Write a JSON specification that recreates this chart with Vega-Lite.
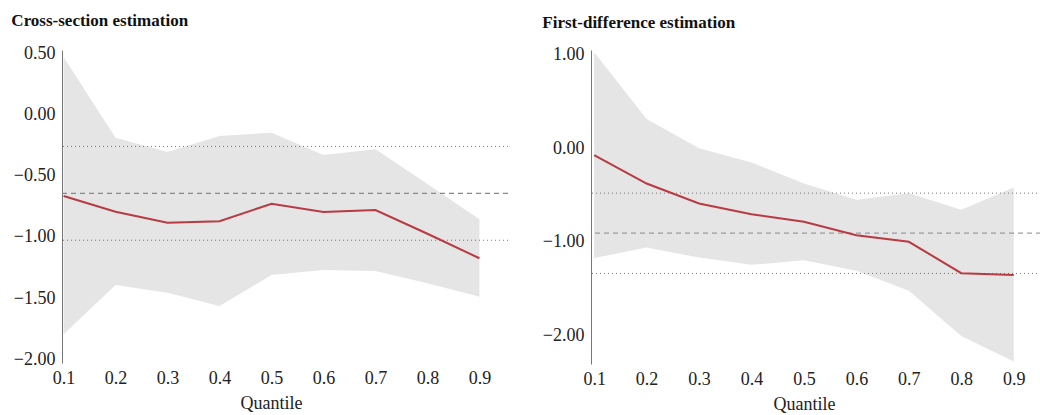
{
  "$schema": "https://vega.github.io/schema/vega-lite/v6.json",
  "padding": {"left": 11, "top": 12, "right": 0, "bottom": 0},
  "background": "white",
  "spacing": 33,
  "config": {
    "font": "Liberation Serif",
    "view": {"stroke": null},
    "axis": {"labelFont": "Liberation Serif", "titleFont": "Liberation Serif", "labelFontSize": 18, "titleFontSize": 18, "labelColor": "#222", "titleColor": "#222", "titleFontWeight": "normal", "grid": false, "ticks": false},
    "title": {"font": "Liberation Serif", "fontSize": 17, "fontWeight": "bold", "color": "#111", "anchor": "start", "frame": "bounds"}
  },
  "datasets": {
    "est": [
      {"panel": "cs", "q": 0.1, "est": -0.667, "lo": -1.796, "hi": 0.468},
      {"panel": "cs", "q": 0.2, "est": -0.795, "lo": -1.393, "hi": -0.191},
      {"panel": "cs", "q": 0.3, "est": -0.885, "lo": -1.456, "hi": -0.308},
      {"panel": "cs", "q": 0.4, "est": -0.873, "lo": -1.565, "hi": -0.177},
      {"panel": "cs", "q": 0.5, "est": -0.730, "lo": -1.312, "hi": -0.150},
      {"panel": "cs", "q": 0.6, "est": -0.797, "lo": -1.270, "hi": -0.332},
      {"panel": "cs", "q": 0.7, "est": -0.781, "lo": -1.280, "hi": -0.286},
      {"panel": "cs", "q": 0.8, "est": -0.975, "lo": -1.380, "hi": -0.569},
      {"panel": "cs", "q": 0.9, "est": -1.175, "lo": -1.489, "hi": -0.857},
      {"panel": "fd", "q": 0.1, "est": -0.072, "lo": -1.176, "hi": 1.03},
      {"panel": "fd", "q": 0.2, "est": -0.377, "lo": -1.063, "hi": 0.313},
      {"panel": "fd", "q": 0.3, "est": -0.591, "lo": -1.170, "hi": 0.0},
      {"panel": "fd", "q": 0.4, "est": -0.705, "lo": -1.248, "hi": -0.152},
      {"panel": "fd", "q": 0.5, "est": -0.787, "lo": -1.198, "hi": -0.377},
      {"panel": "fd", "q": 0.6, "est": -0.930, "lo": -1.312, "hi": -0.551},
      {"panel": "fd", "q": 0.7, "est": -1.001, "lo": -1.526, "hi": -0.480},
      {"panel": "fd", "q": 0.8, "est": -1.337, "lo": -2.009, "hi": -0.659},
      {"panel": "fd", "q": 0.9, "est": -1.358, "lo": -2.284, "hi": -0.420}
    ],
    "refs": [
      {"panel": "cs", "value": -0.262, "kind": "ci"},
      {"panel": "cs", "value": -0.645, "kind": "mean"},
      {"panel": "cs", "value": -1.028, "kind": "ci"},
      {"panel": "fd", "value": -0.480, "kind": "ci"},
      {"panel": "fd", "value": -0.908, "kind": "mean"},
      {"panel": "fd", "value": -1.340, "kind": "ci"}
    ]
  },
  "hconcat": [
    {
      "width": 446,
      "height": 313,
      "title": {"text": "Cross-section estimation", "dx": -2, "offset": 14, "font": "Liberation Serif", "fontSize": 17},
      "layer": [
        {
          "mark": {"type": "rule", "color": "#8c8c8c", "strokeWidth": 1},
          "encoding": {"y": {"datum": 0, "type": "quantitative", "scale": {"domain": [-2.03, 0.525], "nice": false, "zero": false}}}
        },
        {
          "data": {"name": "est"},
          "transform": [{"filter": "datum.panel === 'cs'"}],
          "mark": {"type": "area", "color": "#e5e5e5", "opacity": 1},
          "encoding": {
            "x": {"field": "q", "type": "quantitative", "scale": {"domain": [0.097, 0.955], "nice": false, "zero": false},
              "axis": {"values": [0.1, 0.2, 0.3, 0.4, 0.5, 0.6, 0.7, 0.8, 0.9], "format": ".1f", "domain": false, "labelFont": "Liberation Serif", "labelFontSize": 18, "titleFont": "Liberation Serif", "titleFontSize": 18, "labelPadding": 6, "title": "Quantile", "titleX": 209, "titlePadding": 7}},
            "y": {"field": "lo", "type": "quantitative", "scale": {"domain": [-2.03, 0.525], "nice": false, "zero": false},
              "axis": {"values": [-2, -1.5, -1, -0.5, 0, 0.5], "format": ".2f", "domain": true, "domainColor": "#777", "domainWidth": 1, "labelFont": "Liberation Serif", "labelFontSize": 18, "labelPadding": 7, "title": null}},
            "y2": {"field": "hi"}
          }
        },
        {
          "data": {"name": "refs"},
          "transform": [{"filter": "datum.panel === 'cs' && datum.kind === 'ci'"}],
          "mark": {"type": "rule", "color": "#777", "strokeWidth": 1, "strokeDash": [1, 3]},
          "encoding": {"y": {"field": "value", "type": "quantitative"}}
        },
        {
          "data": {"name": "refs"},
          "transform": [{"filter": "datum.panel === 'cs' && datum.kind === 'mean'"}],
          "mark": {"type": "rule", "color": "#888", "strokeWidth": 1.3, "strokeDash": [5, 4]},
          "encoding": {"y": {"field": "value", "type": "quantitative"}}
        },
        {
          "data": {"name": "est"},
          "transform": [{"filter": "datum.panel === 'cs'"}],
          "mark": {"type": "line", "color": "#b83a42", "strokeWidth": 2},
          "encoding": {
            "x": {"field": "q", "type": "quantitative"},
            "y": {"field": "est", "type": "quantitative"}
          }
        }
      ]
    },
    {
      "width": 450,
      "height": 314,
      "title": {"text": "First-difference estimation", "dx": 0, "offset": 14, "font": "Liberation Serif", "fontSize": 17},
      "layer": [
        {
          "mark": {"type": "rule", "color": "#8c8c8c", "strokeWidth": 1},
          "encoding": {"y": {"datum": 0, "type": "quantitative", "scale": {"domain": [-2.31, 1.053], "nice": false, "zero": false}}}
        },
        {
          "data": {"name": "est"},
          "transform": [{"filter": "datum.panel === 'fd'"}],
          "mark": {"type": "area", "color": "#e5e5e5", "opacity": 1},
          "encoding": {
            "x": {"field": "q", "type": "quantitative", "scale": {"domain": [0.094, 0.952], "nice": false, "zero": false},
              "axis": {"values": [0.1, 0.2, 0.3, 0.4, 0.5, 0.6, 0.7, 0.8, 0.9], "format": ".1f", "domain": false, "labelFont": "Liberation Serif", "labelFontSize": 18, "titleFont": "Liberation Serif", "titleFontSize": 18, "labelPadding": 6, "title": "Quantile", "titleX": 213, "titlePadding": 7}},
            "y": {"field": "lo", "type": "quantitative", "scale": {"domain": [-2.31, 1.053], "nice": false, "zero": false},
              "axis": {"values": [-2, -1, 0, 1], "format": ".2f", "domain": true, "domainColor": "#777", "domainWidth": 1, "labelFont": "Liberation Serif", "labelFontSize": 18, "labelPadding": 7, "title": null}},
            "y2": {"field": "hi"}
          }
        },
        {
          "data": {"name": "refs"},
          "transform": [{"filter": "datum.panel === 'fd' && datum.kind === 'ci'"}],
          "mark": {"type": "rule", "color": "#777", "strokeWidth": 1, "strokeDash": [1, 3]},
          "encoding": {"y": {"field": "value", "type": "quantitative"}}
        },
        {
          "data": {"name": "refs"},
          "transform": [{"filter": "datum.panel === 'fd' && datum.kind === 'mean'"}],
          "mark": {"type": "rule", "color": "#888", "strokeWidth": 1, "strokeDash": [5, 4]},
          "encoding": {"y": {"field": "value", "type": "quantitative"}}
        },
        {
          "data": {"name": "est"},
          "transform": [{"filter": "datum.panel === 'fd'"}],
          "mark": {"type": "line", "color": "#b83a42", "strokeWidth": 2},
          "encoding": {
            "x": {"field": "q", "type": "quantitative"},
            "y": {"field": "est", "type": "quantitative"}
          }
        }
      ]
    }
  ]
}
